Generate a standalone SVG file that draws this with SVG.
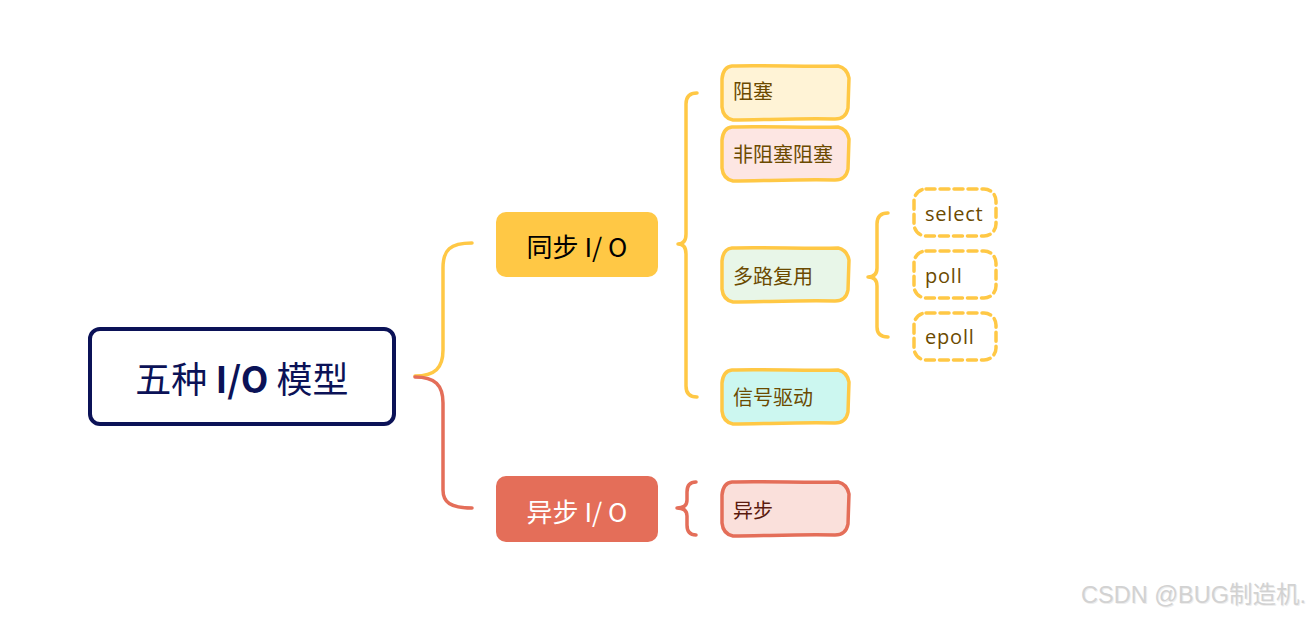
<svg xmlns="http://www.w3.org/2000/svg" xmlns:xlink="http://www.w3.org/1999/xlink" width="1311" height="617" viewBox="0 0 1311 617">
<style>
.t{font-family:"Noto Sans CJK SC","Noto Sans",sans-serif}
.lat{font-family:"Open Sans","Noto Sans CJK SC",sans-serif}
.conn{fill:none;stroke-width:3.5;stroke-linecap:round;stroke-linejoin:round}
.yl{stroke:#ffc845}
.rd{stroke:#e46e59}
.hb{stroke-width:3.5;stroke-linejoin:round}
.ctext{font-size:20px;fill:#6b4a00}
.dash{fill:#ffffff;stroke:#ffc845;stroke-width:3.5;stroke-dasharray:9 5;stroke-linecap:round}
.wm{font-family:"Liberation Sans","Noto Sans CJK SC",sans-serif;font-size:23.5px}
</style>
<defs>
<path id="hb" d="M10,0 C40,-1 90,1 116,0 Q125,2 127,12 L126,42 Q124,53 113,53 C80,52 40,54 11,54 Q1,52 0,41 L0,13 Q1,1 10,0 Z"/>
</defs>
<rect width="1311" height="617" fill="#ffffff"/>
<g id="connectors">
<path class="conn yl" d="M415,376 C435,376 443,368 443,350 L443,268 C443,250 450,243 472,243"/>
<path class="conn rd" d="M415,377 C435,377 443,385 443,403 L443,490 C443,502 450,508 472,508"/>
<path class="conn yl" stroke-width="3" d="M697,93 Q686,93 686,104 L686,234 Q686,244 678,244 Q686,244 686,254 L686,386 Q686,397 697,397"/>
<path class="conn rd" d="M696,482 Q687,482 687,492 L687,500 Q687,508 677,508 Q687,508 687,516 L687,525 Q687,535 696,535"/>
<path class="conn yl" d="M888,213 Q877,213 877,224 L877,268 Q877,277 868,277 Q877,277 877,286 L877,327 Q877,337 888,337"/>
</g>
<g id="root">
<rect x="90" y="329" width="304" height="95" rx="10" fill="#ffffff" stroke="#0b1257" stroke-width="4"/>
<text class="t" x="242" y="393" font-size="36" fill="#0b1257" text-anchor="middle">五种 <tspan font-weight="bold">I/O</tspan> 模型</text>
</g>
<g id="sync">
<rect x="496" y="212" width="162" height="65" rx="10" fill="#ffc845"/>
<text class="t" x="577" y="257" font-size="26" fill="#000000" text-anchor="middle">同步 I/ O</text>
</g>
<g id="async">
<rect x="496" y="476" width="162" height="66" rx="10" fill="#e46e59"/>
<text class="t" x="577" y="522" font-size="26" fill="#ffffff" text-anchor="middle">异步 I/ O</text>
</g>
<g id="n-block">
<use xlink:href="#hb" href="#hb" transform="translate(722,66)" class="hb" fill="#fff3d6" stroke="#ffc845"/>
<text class="t ctext" x="733" y="99">阻塞</text>
</g>
<g id="n-nonblock">
<use xlink:href="#hb" href="#hb" transform="translate(722,127)" class="hb" fill="#fde6e3" stroke="#ffc845"/>
<text class="t ctext" x="733" y="162">非阻塞阻塞</text>
</g>
<g id="n-mux">
<use xlink:href="#hb" href="#hb" transform="translate(722,248)" class="hb" fill="#e8f6e8" stroke="#ffc845"/>
<text class="t ctext" x="733" y="284">多路复用</text>
</g>
<g id="n-signal">
<use xlink:href="#hb" href="#hb" transform="translate(722,370)" class="hb" fill="#ccf7f0" stroke="#ffc845"/>
<text class="t ctext" x="733" y="405">信号驱动</text>
</g>
<g id="n-async">
<use xlink:href="#hb" href="#hb" transform="translate(722,482)" class="hb" fill="#fae0db" stroke="#e46e59"/>
<text class="t" x="733" y="518" font-size="20" fill="#5a1a0e">异步</text>
</g>
<g id="n-select">
<rect class="dash" x="914" y="189" width="82" height="47" rx="12"/>
<text class="lat ctext" x="925" y="221" font-size="19" letter-spacing="0.8">select</text>
</g>
<g id="n-poll">
<rect class="dash" x="914" y="251" width="82" height="47" rx="12"/>
<text class="lat ctext" x="925" y="283" font-size="19" letter-spacing="0.8">poll</text>
</g>
<g id="n-epoll">
<rect class="dash" x="914" y="313" width="82" height="47" rx="12"/>
<text class="lat ctext" x="925" y="344" font-size="19" letter-spacing="0.8">epoll</text>
</g>
<text class="wm" x="1306" y="603" fill="#ededed" text-anchor="end" transform="translate(1,1)">CSDN @BUG制造机.</text>
<text class="wm" x="1306" y="603" fill="#d2d2d2" text-anchor="end">CSDN @BUG制造机.</text>
</svg>
